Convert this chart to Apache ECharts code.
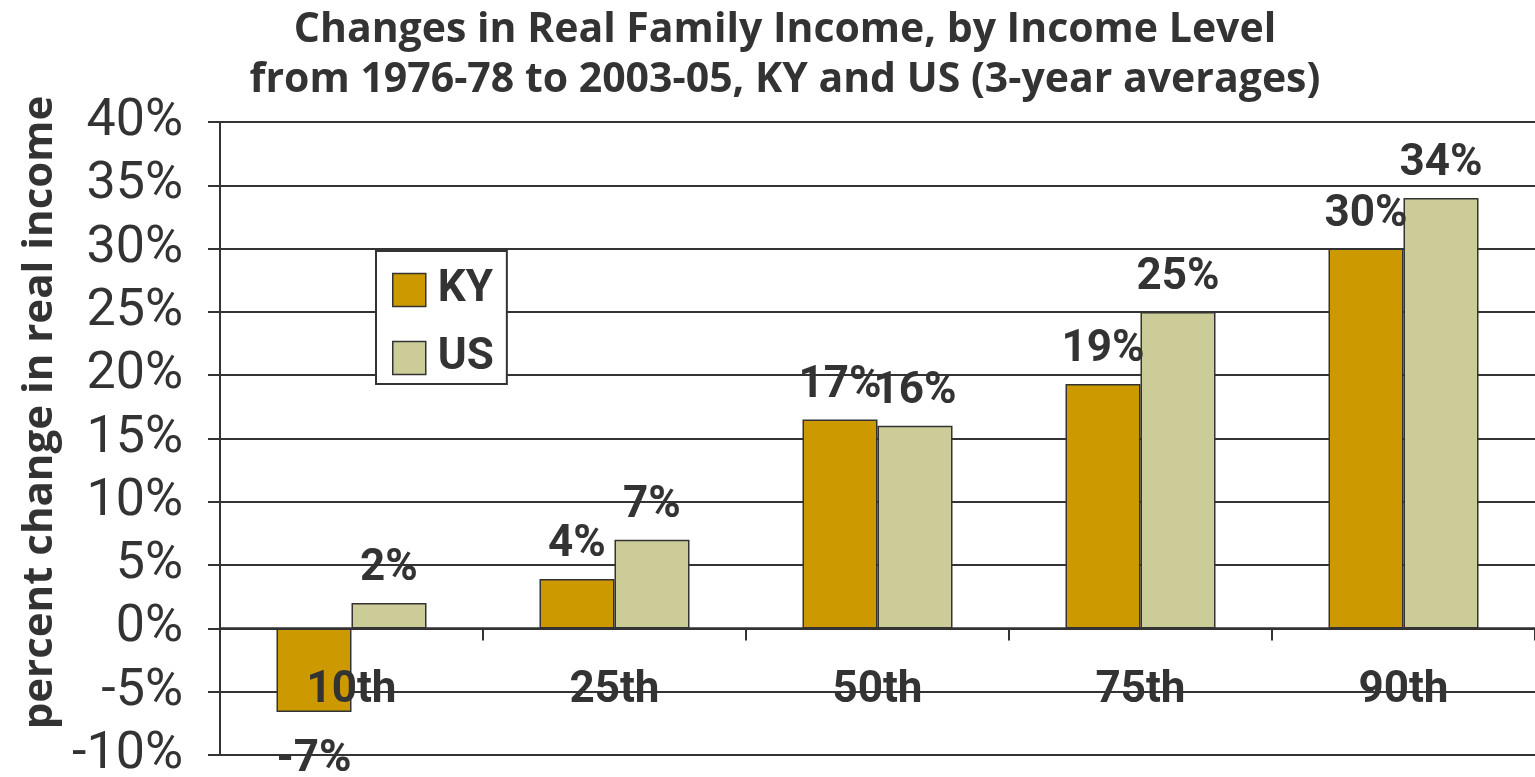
<!DOCTYPE html>
<html>
<head>
<meta charset="utf-8">
<script src="https://cdn.jsdelivr.net/npm/echarts@6/dist/echarts.min.js"></script>
<style>
  html, body { margin: 0; padding: 0; background: #fff; }
  #chart { width: 1535px; height: 777px; }
</style>
</head>
<body>
<div id="chart"></div>
<script>
// 数据
const categories = ["10th", "25th", "50th", "75th", "90th"];
const kyValues = [-6.6, 3.9, 16.5, 19.3, 30.0];
const usValues = [2.0, 7.0, 16.0, 25.0, 34.0];
const kyLabels = ["-7%", "4%", "17%", "19%", "30%"];
const usLabels = ["2%", "7%", "16%", "25%", "34%"];

const textColor = "#333333";
const font = "Roboto";
const titleFont = "Open Sans";

// 负值标签放在柱子下方
const toItems = (values, labels) =>
  values.map((v, i) => ({
    value: v,
    label: {
      formatter: labels[i],
      position: v < 0 ? "bottom" : "top",
      distance: v < 0 ? 26 : 12,
    },
  }));

const gridTop = 122;
const gridBottom = 22;
const plotH = 777 - gridTop - gridBottom;
const zeroShift = -plotH * 10 / 50; // x 轴放到 0% 处

const option = {
  animation: false,
  backgroundColor: "#fff",
  textStyle: { fontFamily: font, color: textColor },
  title: {
    text: "Changes in Real Family Income, by Income Level\nfrom 1976-78 to 2003-05, KY and US (3-year averages)",
    left: 785,
    textAlign: "center",
    top: 5,
    padding: 0,
    textStyle: {
      fontFamily: titleFont,
      fontSize: 41,
      fontWeight: "bold",
      color: textColor,
      lineHeight: 50,
    },
  },
  legend: {
    orient: "vertical",
    left: 376,
    top: 251,
    padding: [17, 13, 4, 16],
    itemWidth: 33,
    itemHeight: 33,
    itemGap: 24,
    itemStyle: { borderColor: "#333", borderWidth: 1.5 },
    backgroundColor: "#fff",
    borderColor: "#333",
    borderWidth: 2,
    icon: "rect",
    textStyle: {
      fontFamily: font,
      fontSize: 44,
      fontWeight: "bold",
      color: textColor,
      padding: [0, 0, 0, 7],
    },
    data: ["KY", "US"],
  },
  grid: {
    left: 220,
    right: 0,
    top: gridTop,
    bottom: gridBottom,
    outerBoundsMode: "none",
    containLabel: false,
  },
  xAxis: {
    type: "category",
    data: categories,
    position: "bottom",
    offset: zeroShift,
    z: 10,
    axisLine: { onZero: false, lineStyle: { color: "#333", width: 2.5 } },
    axisTick: { show: true, length: 12, lineStyle: { color: "#333", width: 2 } },
    axisLabel: {
      margin: 41,
      fontFamily: font,
      fontSize: 44,
      fontWeight: "bold",
      color: textColor,
    },
  },
  yAxis: {
    type: "value",
    min: -10,
    max: 40,
    interval: 5,
    name: "percent change in real income",
    nameLocation: "middle",
    nameGap: 158,
    nameTextStyle: {
      fontFamily: titleFont,
      fontSize: 42,
      fontWeight: "bold",
      color: textColor,
      padding: [0, 0, 0, 52],
    },
    axisLine: { show: true, lineStyle: { color: "#333", width: 2 } },
    axisTick: { show: true, length: 12, lineStyle: { color: "#333", width: 2 } },
    axisLabel: {
      margin: 37,
      formatter: "{value}%",
      fontFamily: font,
      fontSize: 52,
      color: textColor,
    },
    splitLine: { lineStyle: { color: "#333", width: 2 } },
  },
  series: [
    {
      name: "KY",
      type: "bar",
      barWidth: 75,
      barGap: "0%",
      data: toItems(kyValues, kyLabels),
      itemStyle: { color: "#CC9900", borderColor: "#333", borderWidth: 1.5 },
      label: {
        show: true,
        fontFamily: font,
        fontSize: 44,
        fontWeight: "bold",
        color: textColor,
      },
    },
    {
      name: "US",
      type: "bar",
      barWidth: 75,
      barGap: "0%",
      data: toItems(usValues, usLabels),
      itemStyle: { color: "#CCCC99", borderColor: "#333", borderWidth: 1.5 },
      label: {
        show: true,
        fontFamily: font,
        fontSize: 44,
        fontWeight: "bold",
        color: textColor,
      },
    },
  ],
};

const myChart = echarts.init(document.getElementById("chart"));
myChart.setOption(option);
</script>
</body>
</html>
